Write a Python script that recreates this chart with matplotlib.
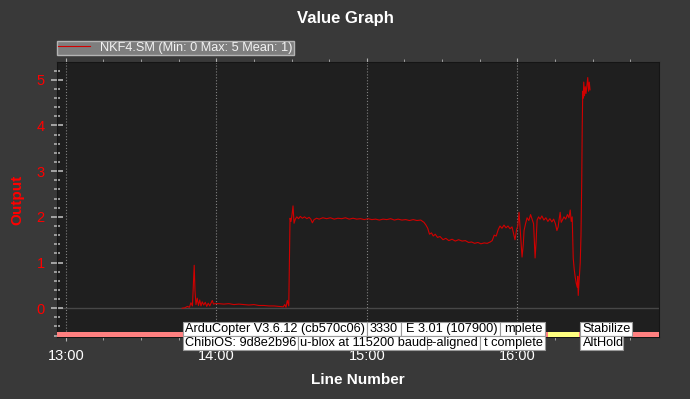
import matplotlib
matplotlib.use("Agg")
import matplotlib.pyplot as plt
from matplotlib.patches import Rectangle
from matplotlib.ticker import FuncFormatter, MultipleLocator
from matplotlib.transforms import blended_transform_factory

plt.rcParams["font.family"] = ["Liberation Sans", "DejaVu Sans"]

# minutes after 13:00 and NKF4.SM value
minutes = [
    46.4, 47.5, 48.5, 49.3, 49.9, 50.5, 50.9, 51.2, 51.5, 51.9, 52.4, 52.9,
    53.4, 53.9, 54.4, 55.0, 55.6, 56.2, 56.8, 57.4, 58.0, 58.4, 58.9, 59.5,
    61, 63, 65, 67, 69, 71, 73, 75, 77, 79, 81, 83, 85, 86.7, 87.3, 87.8,
    88.3, 88.9, 89.4, 89.8, 90.2, 90.6, 91.0, 91.5, 92.1, 92.8, 93.5, 94.3,
    95.2, 96.1, 97.0, 97.7, 98.3, 99.0, 100, 101, 102.5, 104, 105.5, 107,
    108.5, 110, 111.5, 113, 114.5, 116, 117.5, 119, 120.5, 122, 123.5, 125,
    126.5, 128, 129.5, 131, 132.5, 134, 135.5, 137, 138.5, 140, 141.5, 142.8,
    143.6, 144.3, 145.0, 145.8, 146.5, 147.3, 148.2, 149.2, 150.4, 151.5,
    152.7, 154, 155.3, 156.6, 158, 159.3, 160.6, 161.8, 163, 164.3, 165.5,
    166.8, 168, 169.2, 170.0, 170.8, 171.6, 172.4, 173.1, 173.9, 174.7,
    175.5, 176.3, 177.1, 177.9, 178.6, 179.1, 179.7, 180.2, 180.7, 181.2,
    181.9, 182.4, 182.7, 183.3, 183.9, 184.6, 185.3, 185.9, 186.5, 187.1,
    187.5, 187.9, 188.5, 189.1, 189.8, 190.6, 191.4, 192.2, 193.0, 193.8,
    194.5, 195.2, 195.8, 196.3, 196.7, 197.1, 197.5, 197.9, 198.6, 199.3,
    200.0, 200.6, 201.1, 201.5, 201.9, 202.3, 202.7, 203.1, 203.5, 203.9,
    204.1, 204.3, 204.6, 205.1, 205.4, 205.7, 205.9, 206.1, 206.3, 206.5,
    206.8, 207.1, 207.4, 207.8, 208.1, 208.4, 208.7, 209.0,
]
values = [
    0.00, 0.01, 0.04, 0.02, 0.12, 0.05, 0.55, 0.94, 0.40, 0.08, 0.22, 0.06,
    0.18, 0.05, 0.14, 0.07, 0.13, 0.04, 0.11, 0.05, 0.12, 0.17, 0.09, 0.10,
    0.10, 0.09, 0.10, 0.08, 0.09, 0.08, 0.07, 0.08, 0.06, 0.06, 0.05, 0.05,
    0.04, 0.03, 0.08, 0.02, 0.17, 0.05, 1.97, 1.90, 2.05, 2.24, 1.86, 1.95,
    2.00, 1.96, 2.01, 1.97, 2.00, 1.96, 1.99, 1.95, 1.87, 1.94, 1.97, 1.95,
    1.98, 1.96, 1.98, 1.95, 1.97, 1.96, 1.98, 1.95, 1.97, 1.95, 1.96, 1.94,
    1.96, 1.94, 1.95, 1.93, 1.95, 1.94, 1.96, 1.93, 1.95, 1.93, 1.94, 1.92,
    1.94, 1.92, 1.93, 1.88, 1.82, 1.75, 1.62, 1.65, 1.58, 1.62, 1.55, 1.57,
    1.50, 1.53, 1.48, 1.51, 1.47, 1.50, 1.47, 1.48, 1.44, 1.45, 1.42, 1.44,
    1.41, 1.43, 1.42, 1.45, 1.48, 1.60, 1.58, 1.72, 1.80, 1.75, 1.82, 1.76,
    1.80, 1.74, 1.78, 1.62, 1.50, 1.72, 1.80, 2.10, 1.70, 1.12, 1.40, 1.70,
    1.85, 1.98, 1.92, 2.05, 1.95, 1.85, 1.10, 1.45, 1.93, 2.00, 1.95, 2.02,
    1.93, 1.98, 1.90, 1.96, 1.89, 1.95, 1.85, 1.70, 1.78, 1.95, 2.10, 1.88,
    1.92, 2.00, 1.95, 2.05, 1.98, 2.15, 1.90, 2.00, 1.10, 0.85, 0.68, 0.55,
    0.46, 0.70, 0.28, 0.55, 1.00, 1.60, 2.80, 4.00, 4.75, 4.60, 4.95, 4.65,
    4.85, 4.70, 4.90, 5.05, 4.75, 4.95, 4.78,
]

# flight mode band
mode_starts = [-3.5, 192.3, 204.7]
mode_ends = [192.3, 204.7, 236.5]
mode_colors = ["#ff8080", "#ffff80", "#ff8080"]

# log messages (visible part): row, start, end, text, alignment
msg_rows = [0, 0, 0, 0, 0, 1, 1, 1, 1, 1]
msg_starts = [46.8, 120.0, 133.6, 173.1, 205.1, 46.8, 92.6, 144.1, 165.2, 205.1]
msg_ends = [120.0, 133.6, 173.1, 191.1, 225.8, 92.6, 144.1, 165.2, 191.1, 222.3]
msg_texts = [
    "ArduCopter V3.6.12 (cb570c06)",
    "3330",
    "E 3.01 (107900)",
    "mplete",
    "Stabilize",
    "ChibiOS: 9d8e2b96",
    "u-blox at 115200 baud",
    "e-aligned",
    "t complete",
    "AltHold",
]
msg_align = ["left", "left", "right", "right", "left",
             "left", "left", "right", "right", "left"]

fig = plt.figure(figsize=(6.9, 3.99), dpi=100, facecolor="#393939")
ax = fig.add_axes([57 / 690, 1 - 337 / 399, 602 / 690, 275 / 399])
ax.set_facecolor("#1f1f1f")

ax.plot(minutes, values, color="#d00000", lw=0.8,
        label="NKF4.SM (Min: 0 Max: 5 Mean: 1)", zorder=5)
ax.axhline(0, color="#474747", lw=1.0, zorder=1)

for s, e, c in zip(mode_starts, mode_ends, mode_colors):
    ax.axvspan(s, e, ymin=0, ymax=0.018, color=c, lw=0, zorder=6)

ax.set_xlim(-3.5, 236.5)
ax.set_ylim(-0.63, 5.39)

ax.xaxis.set_major_locator(MultipleLocator(60))
ax.xaxis.set_minor_locator(MultipleLocator(15))
ax.xaxis.set_major_formatter(
    FuncFormatter(lambda m, p: f"{13 + int(m // 60)}:{int(m % 60):02d}"))
ax.yaxis.set_major_locator(MultipleLocator(1))
ax.yaxis.set_minor_locator(MultipleLocator(0.2))

ax.grid(True, axis="x", which="major", color="#808080", ls=":", lw=0.8)

ax.tick_params(axis="x", which="both", colors="#b0b0b0", labelcolor="white",
               labelsize=10.5, direction="out", length=3, pad=6, top=True)
ax.tick_params(axis="x", which="minor", length=2)
ax.tick_params(axis="y", which="major", colors="#b8b8b8", labelcolor="red",
               labelsize=10.5, direction="inout", length=8, width=1.2, pad=5)
ax.tick_params(axis="y", which="minor", colors="#b0b0b0",
               direction="inout", length=4.5, width=1.2)

for sp in ax.spines.values():
    sp.set_color("#151515")

ax.set_xlabel("Line Number", color="white", fontsize=11, fontweight="bold")
ax.xaxis.set_label_coords(0.5, -0.131)
ax.set_ylabel("Output", color="red", fontsize=11, fontweight="bold")
ax.yaxis.set_label_coords(-0.055, 0.5)

fig.text(0.5, 1 - 18 / 399, "Value Graph", color="white", fontsize=12,
         fontweight="bold", ha="center", va="center")

leg = ax.legend(loc="lower left", bbox_to_anchor=(0, 1.025), borderaxespad=0,
                fontsize=9.2, frameon=True, fancybox=False, framealpha=1,
                facecolor="#7e7e7e", edgecolor="#b4b4b4", borderpad=0.1,
                handlelength=2.5, handletextpad=0.8)
for t in leg.get_texts():
    t.set_color("#f2f2f2")
leg.get_frame().set_linewidth(1.0)

trans = blended_transform_factory(ax.transData, ax.transAxes)
row_h = 0.051
for r, s, e, txt, al in zip(msg_rows, msg_starts, msg_ends, msg_texts, msg_align):
    y0 = 0.0036 - r * row_h
    rect = Rectangle((s, y0), e - s, row_h, transform=trans, facecolor="white",
                     edgecolor="#9a9a9a", lw=0.8, clip_on=False, zorder=10)
    ax.add_patch(rect)
    tx = s + 0.9 if al == "left" else e - 0.9
    t = ax.text(tx, y0 + row_h / 2, txt, transform=trans, ha=al, va="center",
                fontsize=9.2, color="black", zorder=11)
    t.set_clip_path(rect)
    t.set_clip_on(True)

fig.savefig("out.png", dpi=100, facecolor=fig.get_facecolor())
